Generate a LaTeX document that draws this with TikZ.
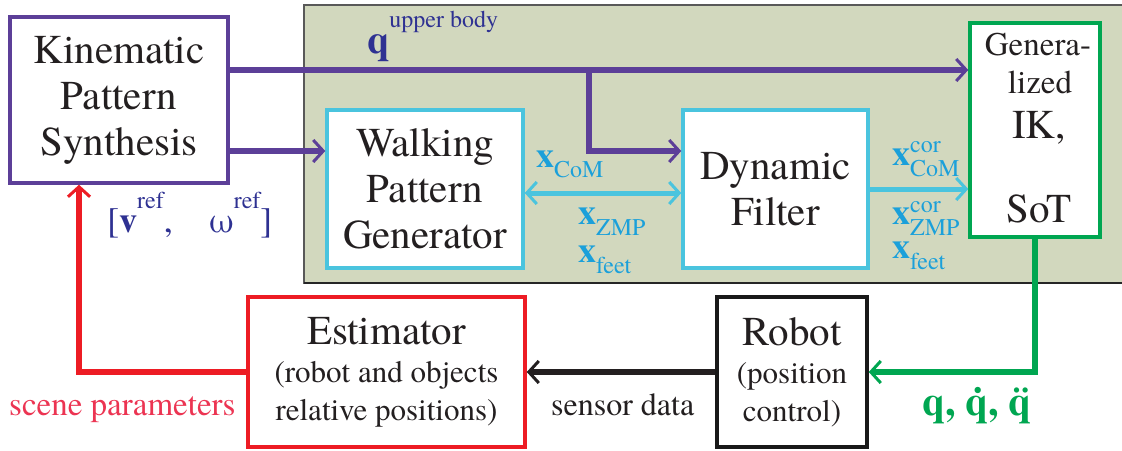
\documentclass[tikz,border=0pt]{standalone}
\usepackage{fontspec}
\IfFontExistsTF{texgyretermes-regular.otf}
  {\setmainfont{texgyretermes}[Extension=.otf, UprightFont=*-regular, BoldFont=*-bold, ItalicFont=*-italic, BoldItalicFont=*-bolditalic]}
  {\setmainfont{Liberation Serif}}
\usetikzlibrary{arrows.meta,calc}
\definecolor{kpurple}{RGB}{92,63,152}
\definecolor{kblue}{RGB}{46,49,146}
\definecolor{kcyan}{RGB}{74,196,222}
\definecolor{kcyantext}{RGB}{27,160,218}
\definecolor{kgreen}{RGB}{0,166,81}
\definecolor{kred}{RGB}{237,28,36}
\definecolor{kpink}{RGB}{236,52,82}
\definecolor{kpanel}{RGB}{210,216,190}
\definecolor{ktext}{RGB}{35,31,32}
\newcommand{\fs}[2]{\fontsize{#1}{#2}\selectfont}
\tikzset{
  blk/.style={draw, fill=white, line width=3.5pt, inner sep=0pt, align=center,
    text=ktext, font=\fs{41}{46}},
  txt/.style={anchor=base west, inner sep=0pt},
  ctxt/.style={anchor=base, inner sep=0pt, text=ktext, font=\fs{41}{46}},
  barb/.style={-{Straight Barb[length=10pt,width=22pt,line width=3pt]}},
  dbarb/.style={{Straight Barb[length=10pt,width=22pt,line width=3pt]}-{Straight Barb[length=10pt,width=22pt,line width=3pt]}},
  pline/.style={draw=kpurple, line width=5.5pt, barb},
  cline/.style={draw=kcyan, line width=5pt},
}
\begin{document}
\begin{tikzpicture}[x=1pt,y=-1pt]
\useasboundingbox (0,0) rectangle (1122,450);
\fill[white] (0,0) rectangle (1122,450);
% panel
\draw[fill=kpanel, draw=gray!70!black, line width=1.2pt] (304,5) rectangle (1126,283);
\draw[black!85, line width=1.6pt] (304,283) -- (1126,283);
% blocks
\node[blk, draw=kpurple, minimum width=218pt, minimum height=166pt] (kps) at (119,100) {Kinematic\\Pattern\\Synthesis};
\node[blk, draw=kcyan, minimum width=196pt, minimum height=158pt] (wpg) at (425,189) {Walking\\Pattern\\Generator};
\node[blk, draw=kcyan, minimum width=185pt, minimum height=158pt] (df) at (775.5,189) {Dynamic\\Filter};
\node[blk, draw=kgreen, minimum width=130pt, minimum height=214pt] (ik) at (1035,130) {};
\node[ctxt, font=\fs{33}{38}] (ik1) at (1038,55) {Genera-};
\node[ctxt, font=\fs{33}{38}] (ik2) at (1040,93) {lized};
\node[ctxt] (ik3) at (1039,138) {IK,};
\node[ctxt] (ik4) at (1039,222) {SoT};
\node[blk, draw=kred, minimum width=277pt, minimum height=150pt, font=\fs{41}{38}] (est) at (386.5,372)
  {Estimator\\{\fs{31}{38}(robot and objects}\\{\fs{31}{38}relative positions)}};
\node[blk, draw=black!90, minimum width=150pt, minimum height=150pt, font=\fs{41}{38}] (rob) at (792,372)
  {Robot\\{\fs{31}{38}(position}\\{\fs{31}{38}control)}};
% helper coordinates
\coordinate (qy) at (0,70);
\coordinate (ly) at (0,151);
\coordinate (cy) at (0,193);
\coordinate (br) at (589,70);
\coordinate (rx) at (79,0);
% connectors
\draw[pline] (kps.east |- qy) -- (ik.west |- qy);
\draw[pline] (br) |- (df.west |- ly);
\draw[pline] (kps.east |- ly) -- (wpg.west |- ly);
\draw[cline, dbarb] (wpg.east |- cy) -- (df.west |- cy);
\draw[cline, barb] (df.east) -- (ik.west |- df.east);
\draw[draw=kgreen, line width=6pt, barb] (ik.south) |- (rob.east);
\draw[draw=ktext, line width=6pt, barb] (rob.west) -- (est.east);
\draw[draw=kred, line width=5.5pt, barb] (est.west) -| (kps.south -| rx);
% labels
\node[txt, text=kblue] (qub) at (367,53)
  {\fs{40}{40}\bfseries q\raisebox{26pt}{\fs{24}{24}\mdseries upper body}};
\node[txt, text=kblue] (vw) at (107,232)
  {\fs{36}{36}[\textbf{v}\raisebox{24pt}{\fs{24}{24}ref},\hspace{36pt}ω\raisebox{24pt}{\fs{24}{24}ref}]};
\node[txt, text=kcyantext] (xcom) at (536,167)
  {\fs{36}{36}\textbf{x}\raisebox{-10pt}{\fs{24}{24}CoM}};
\node[txt, text=kcyantext] (xzmp) at (578,224)
  {\fs{36}{36}\textbf{x}\raisebox{-11pt}{\fs{24}{24}ZMP}};
\node[txt, text=kcyantext] (xfeet) at (578,262)
  {\fs{36}{36}\textbf{x}\raisebox{-11pt}{\fs{24}{24}feet}};
\node[txt, text=kcyantext] (xccom) at (892,165)
  {\fs{36}{36}\textbf{x}\rlap{\raisebox{13pt}{\fs{24}{24}cor}}\raisebox{-11pt}{\fs{24}{24}CoM}};
\node[txt, text=kcyantext] (xczmp) at (892,224)
  {\fs{36}{36}\textbf{x}\rlap{\raisebox{12pt}{\fs{24}{24}cor}}\raisebox{-11pt}{\fs{24}{24}ZMP}};
\node[txt, text=kcyantext] (xcfeet) at (892,258)
  {\fs{36}{36}\textbf{x}\raisebox{-11pt}{\fs{24}{24}feet}};
\node[txt, text=kpink, font=\fs{33}{33}] (scene) at (9,415) {scene parameters};
\node[txt, text=ktext, font=\fs{32}{32}] (sensor) at (551,415) {sensor data};
\node[txt, text=kgreen, font=\fs{41}{41}\bfseries] (qqq) at (922,415) {q, q̇, q̈};
\end{tikzpicture}
\end{document}
